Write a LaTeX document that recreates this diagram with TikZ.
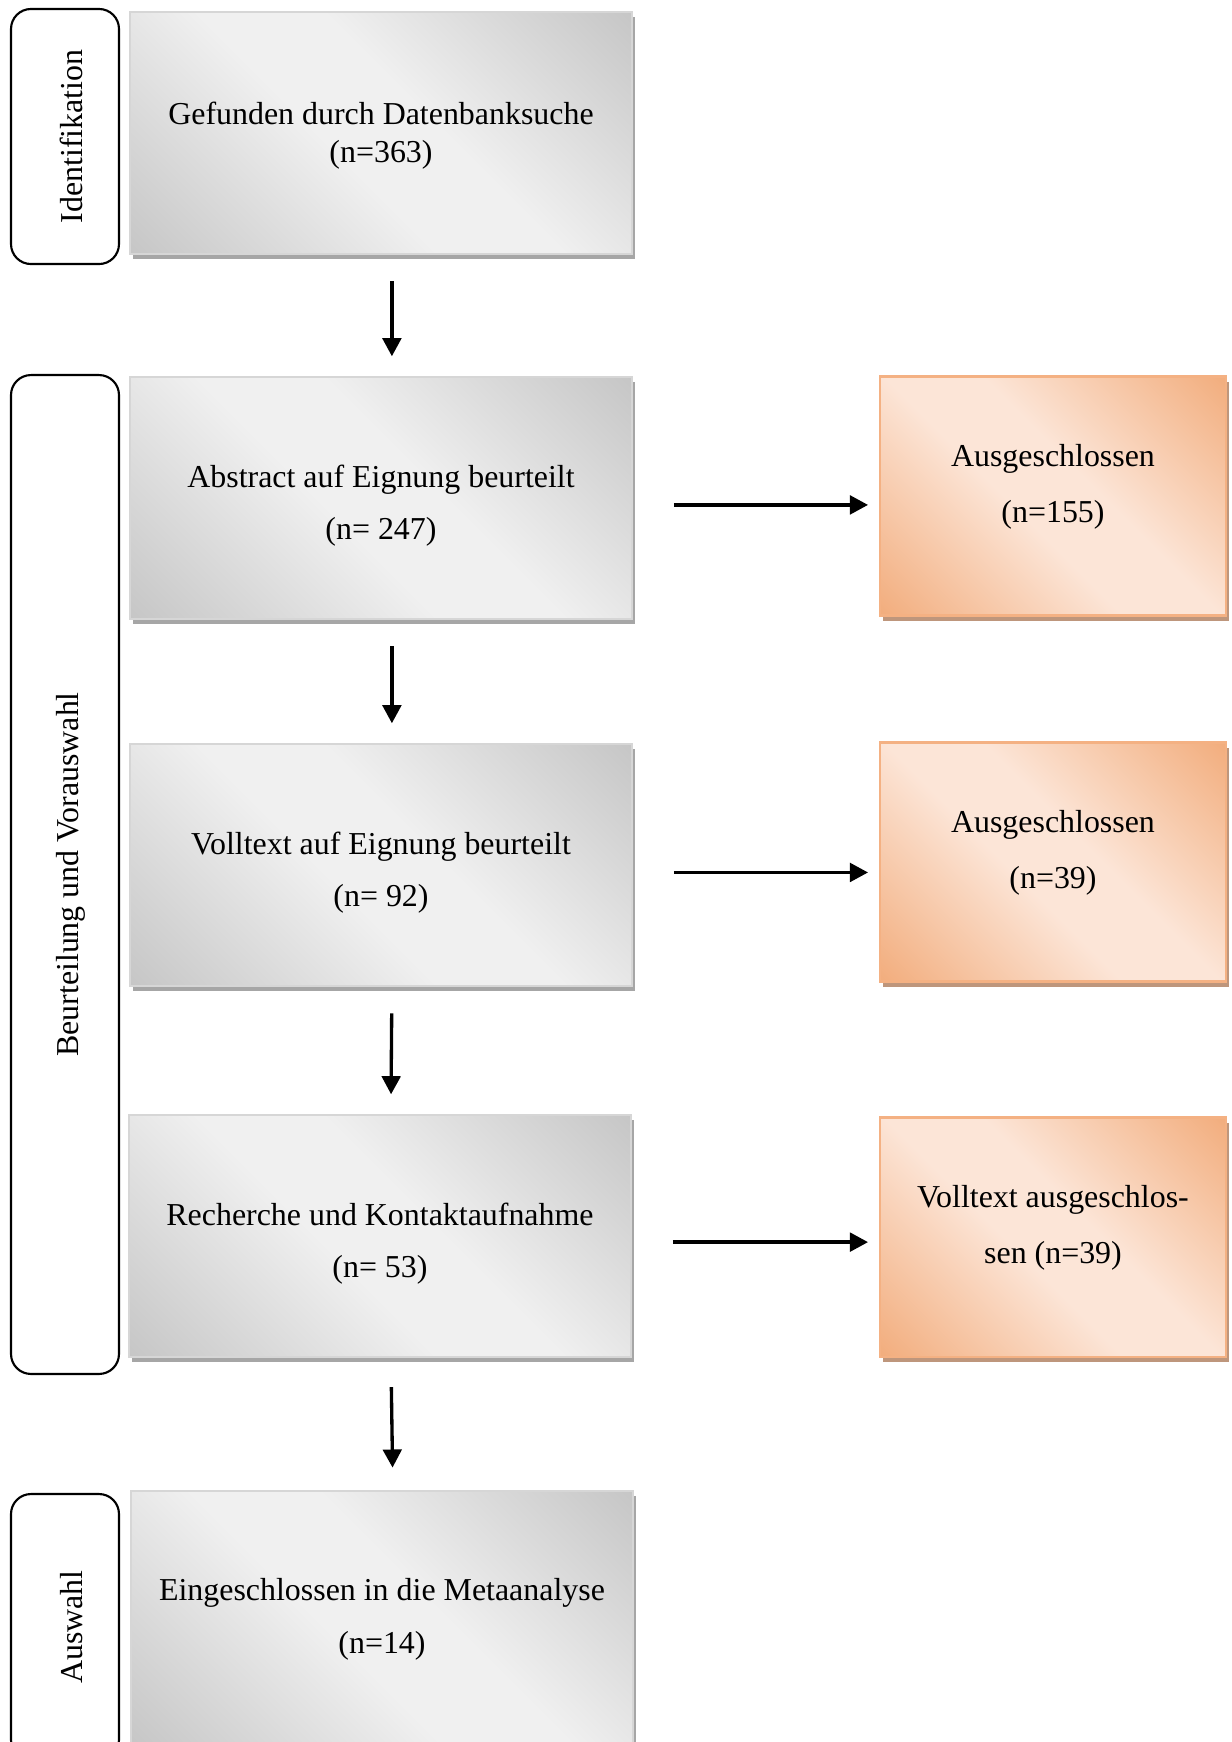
\documentclass[tikz,border=0pt]{standalone}
\usepackage{fontspec}
\setmainfont{Liberation Serif}
\usetikzlibrary{arrows.meta,calc,shadows}

\definecolor{greyDark}{HTML}{C6C6C6}
\definecolor{greyLight}{HTML}{F0F0F0}
\definecolor{greyEdge}{HTML}{D6D6D6}
\definecolor{greyShade}{HTML}{A6A6A6}
\definecolor{orangeDark}{HTML}{F2AD7D}
\definecolor{orangeLight}{HTML}{FCE5D7}
\definecolor{orangeEdge}{HTML}{F4B183}
\definecolor{orangeShade}{HTML}{BE967C}

% diagonal fill: dark in two opposite corners, light across the other diagonal
\pgfdeclarehorizontalshading{diagGrey}{100bp}{color(0bp)=(greyDark); color(14.6bp)=(greyDark);
  color(44bp)=(greyLight); color(56bp)=(greyLight); color(85.4bp)=(greyDark); color(100bp)=(greyDark)}
\pgfdeclarehorizontalshading{diagOrange}{100bp}{color(0bp)=(orangeDark); color(14.6bp)=(orangeDark);
  color(44bp)=(orangeLight); color(56bp)=(orangeLight); color(85.4bp)=(orangeDark); color(100bp)=(orangeDark)}

% struts that move the text inside a box
\newcommand\liftup{\rule[-9.5pt]{0pt}{0pt}}
\newcommand\pushdown[1]{\rule{0pt}{#1}}

\tikzset{
  txt/.style={font=\fontsize{12}{14.3}\selectfont},
  phase/.style={txt, draw, line width=0.8pt, rounded corners=7.5pt,
    rotate=90, inner sep=0pt},
  stage/.style={txt, draw=greyEdge, line width=0.6pt,
    shade, shading=diagGrey, shading angle=45,
    minimum width=188.8pt, minimum height=91pt,
    align=center, inner sep=0pt,
    drop shadow={shadow xshift=1.2pt, shadow yshift=-2pt,
      fill=greyShade, opacity=1}},
  excl/.style={txt, draw=orangeEdge, line width=0.8pt,
    shade, shading=diagOrange, shading angle=45,
    minimum width=130.1pt, minimum height=89.9pt,
    align=center, inner sep=0pt,
    drop shadow={shadow xshift=1.2pt, shadow yshift=-2pt,
      fill=orangeShade, opacity=1}},
  flow/.style={line width=1.25pt, -{Triangle[length=6.8pt,width=7pt]}},
}

\begin{document}
\begin{tikzpicture}[x=0.376pt, y=-0.376pt]
\useasboundingbox (0,0) rectangle (1231,1742);
\clip (0,0) rectangle (1231,1742);

% phase labels on the left
\node[phase, minimum width=95.9pt, minimum height=40.6pt] (p1) at (65,136.5) {\pushdown{13pt}Identifikation};
\node[phase, minimum width=375.6pt, minimum height=40.6pt] (p2) at (65,874.5) {\pushdown{13pt}Beurteilung und Vorauswahl};
\node[phase, minimum width=100pt, minimum height=40.6pt] (p3) at (65,1627) {\pushdown{13pt}Auswahl};

% main stages
\node[stage] (s1) at (381,133) {\pushdown{10.6pt}Gefunden durch Datenbanksuche\\(n=363)};
\node[stage] (s2) at (381,498) {\pushdown{14.2pt}Abstract auf Eignung beurteilt\\[5.6pt](n= 247)};
\node[stage] (s3) at (381,865) {\pushdown{14.2pt}Volltext auf Eignung beurteilt\\[5.6pt](n= 92)};
\node[stage] (s4) at (380,1236) {\pushdown{14.2pt}Recherche und Kontaktaufnahme\\[5.6pt](n= 53)};
\node[stage, minimum height=96.3pt] (s5) at (382,1619) {Eingeschlossen in die Metaanalyse\\[5.6pt](n=14)};

% exclusions
\node[excl] (e1) at (1053,496) {Ausgeschlossen\\[6.7pt](n=155)\liftup};
\node[excl] (e2) at (1053,862) {Ausgeschlossen\\[6.7pt](n=39)\liftup};
\node[excl] (e3) at (1053,1237) {Volltext ausgeschlos-\\[6.7pt]sen (n=39)\liftup};

% downward flow
\draw[flow, shorten <=10pt, shorten >=7.5pt] ([xshift=4.1pt]s1.south) -- ([xshift=4.1pt]s2.north);
\draw[flow, shorten <=10pt, shorten >=7.5pt] ([xshift=4.1pt]s2.south) -- ([xshift=4.1pt]s3.north);
\draw[flow, shorten <=10pt, shorten >=7.5pt] ([xshift=4.1pt]s3.south) -- ([xshift=4.1pt]s4.north);
\draw[flow, shorten <=11pt, shorten >=8.5pt] ([xshift=4.1pt]s4.south) -- ([xshift=4.1pt]s5.north);

% exclusion arrows
\draw[flow, shorten <=15.4pt, shorten >=4.1pt] ([yshift=-2.6pt]s2.east) -- ([yshift=-2.6pt]s2.east -| e1.west);
\draw[flow, shorten <=15.4pt, shorten >=4.1pt] ([yshift=-2.8pt]s3.east) -- ([yshift=-2.8pt]s3.east -| e2.west);
\draw[flow, shorten <=15.4pt, shorten >=4.1pt] ([yshift=-2.3pt]s4.east) -- ([yshift=-2.3pt]s4.east -| e3.west);
\end{tikzpicture}
\end{document}
